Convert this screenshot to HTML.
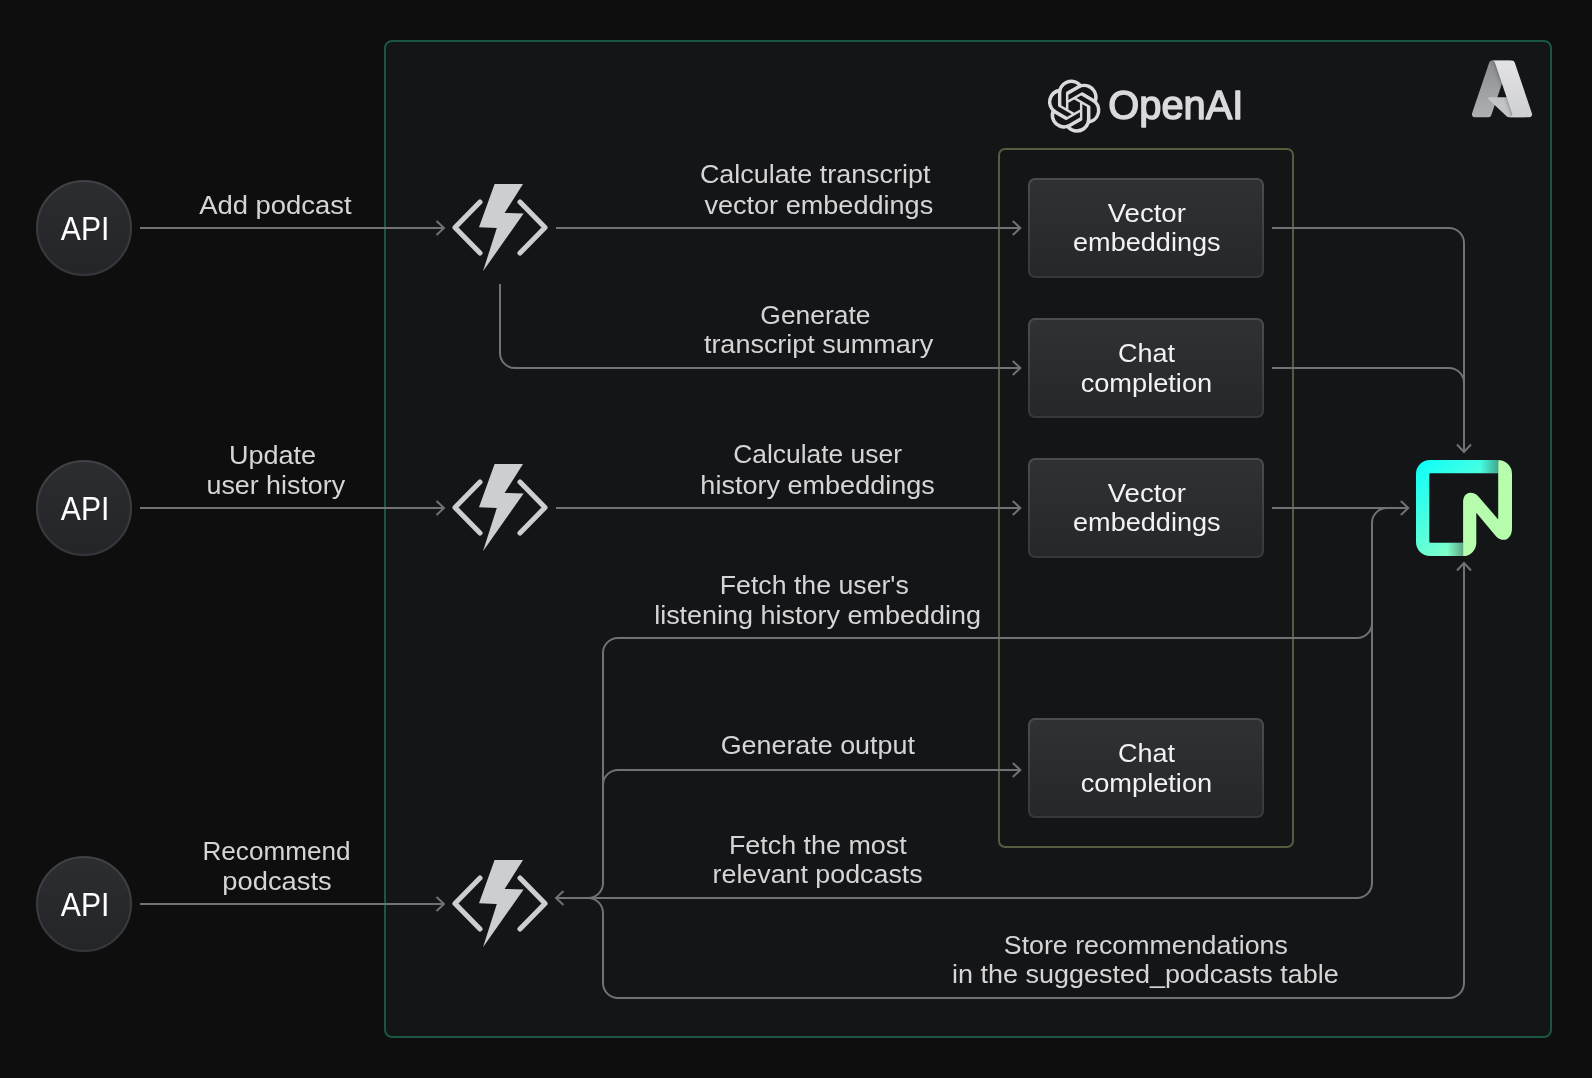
<!DOCTYPE html>
<html><head><meta charset="utf-8"><style>
html,body{margin:0;padding:0;background:#0e0e0e;width:1592px;height:1078px;overflow:hidden;}
svg{display:block;font-family:"Liberation Sans",sans-serif;will-change:transform;}
</style></head><body>
<svg width="1592" height="1078" viewBox="0 0 1592 1078">
<defs>
<linearGradient id="apig" x1="0" y1="0" x2="0" y2="1"><stop offset="0" stop-color="#2c2d30"/><stop offset="1" stop-color="#242528"/></linearGradient>
<linearGradient id="apis" x1="0" y1="0" x2="0" y2="1"><stop offset="0" stop-color="#414245"/><stop offset="1" stop-color="#36373a"/></linearGradient>
<linearGradient id="boxg" x1="0" y1="0" x2="0" y2="1"><stop offset="0" stop-color="#303135"/><stop offset="1" stop-color="#26272a"/></linearGradient>
<linearGradient id="boxs" x1="0" y1="0" x2="0" y2="1"><stop offset="0" stop-color="#4b4c50"/><stop offset="1" stop-color="#37383b"/></linearGradient>
<linearGradient id="azleg" x1="0" y1="0" x2="0" y2="1"><stop offset="0" stop-color="#8d8e91"/><stop offset="1" stop-color="#afb0b3"/></linearGradient>
<linearGradient id="azsh" x1="51.275" y1="49.917" x2="45.02" y2="52.032" gradientUnits="userSpaceOnUse"><stop offset="0" stop-opacity=".3"/><stop offset=".071" stop-opacity=".2"/><stop offset=".321" stop-opacity=".1"/><stop offset=".623" stop-opacity=".05"/><stop offset="1" stop-opacity="0"/></linearGradient>
<linearGradient id="azr" x1="0" y1="0" x2="0" y2="1"><stop offset="0" stop-color="#e3e3e5"/><stop offset="1" stop-color="#cfd0d3"/></linearGradient>
</defs>
<rect x="385" y="41" width="1166" height="996" rx="7" fill="#141517" stroke="#1b5644" stroke-width="2"/>
<rect x="999" y="149" width="294" height="698" rx="6" fill="none" stroke="#575c3f" stroke-width="2"/>
<g fill="none" stroke="#717275" stroke-width="2"><path d="M140 228 H444"/><path d="M556 228 H1020"/><path d="M500 284 V353 A15 15 0 0 0 515 368 H1020"/><path d="M1272 228 H1449 A15 15 0 0 1 1464 243 V451"/><path d="M1272 368 H1449 A15 15 0 0 1 1464 383"/><path d="M140 508 H444"/><path d="M556 508 H1020"/><path d="M1272 508 H1408"/><path d="M1372 883 V523 A15 15 0 0 1 1387 508"/><path d="M1357 638 A15 15 0 0 0 1372 623"/><path d="M1357 638 H618 A15 15 0 0 0 603 653 V883 A15 15 0 0 1 588 898"/><path d="M603 785 A15 15 0 0 1 618 770 H1020"/><path d="M140 904 H444"/><path d="M556 898 H1357 A15 15 0 0 0 1372 883"/><path d="M588 898 A15 15 0 0 1 603 913 V983 A15 15 0 0 0 618 998 H1449 A15 15 0 0 0 1464 983 V564"/><path d="M436.5 221 L444 228 L436.5 235"/><path d="M1012.8 221 L1020.3 228 L1012.8 235"/><path d="M1012.8 361 L1020.3 368 L1012.8 375"/><path d="M436.5 501 L444 508 L436.5 515"/><path d="M1012.8 501 L1020.3 508 L1012.8 515"/><path d="M1400.8 501 L1408.3 508 L1400.8 515"/><path d="M1012.8 763 L1020.3 770 L1012.8 777"/><path d="M436.5 897 L444 904 L436.5 911"/><path d="M563.5 891 L556 898 L563.5 905"/><path d="M1457 444.5 L1464 452 L1471 444.5"/><path d="M1457 570.5 L1464 563 L1471 570.5"/></g>
<rect x="1029" y="179" width="234" height="98" rx="6" fill="url(#boxg)" stroke="url(#boxs)" stroke-width="2"/>
<rect x="1029" y="319" width="234" height="98" rx="6" fill="url(#boxg)" stroke="url(#boxs)" stroke-width="2"/>
<rect x="1029" y="459" width="234" height="98" rx="6" fill="url(#boxg)" stroke="url(#boxs)" stroke-width="2"/>
<rect x="1029" y="719" width="234" height="98" rx="6" fill="url(#boxg)" stroke="url(#boxs)" stroke-width="2"/>
<circle cx="84" cy="228" r="47" fill="url(#apig)" stroke="url(#apis)" stroke-width="2"/>
<circle cx="84" cy="508" r="47" fill="url(#apig)" stroke="url(#apis)" stroke-width="2"/>
<circle cx="84" cy="904" r="47" fill="url(#apig)" stroke="url(#apis)" stroke-width="2"/>
<g transform="translate(0,0.0)">
<path d="M480 202 L455 227.5 L480 253 M520 202 L545 227.5 L520 253" fill="none" stroke="#cdced1" stroke-width="5.1" stroke-linecap="round" stroke-linejoin="round"/>
<path d="M494.6 184 L523 184 L504.6 213 L523.6 213.4 L483 271.3 L496.8 228 L479 227.3 Z" fill="#cdced1"/>
</g>
<g transform="translate(0,280.0)">
<path d="M480 202 L455 227.5 L480 253 M520 202 L545 227.5 L520 253" fill="none" stroke="#cdced1" stroke-width="5.1" stroke-linecap="round" stroke-linejoin="round"/>
<path d="M494.6 184 L523 184 L504.6 213 L523.6 213.4 L483 271.3 L496.8 228 L479 227.3 Z" fill="#cdced1"/>
</g>
<g transform="translate(0,676.0)">
<path d="M480 202 L455 227.5 L480 253 M520 202 L545 227.5 L520 253" fill="none" stroke="#cdced1" stroke-width="5.1" stroke-linecap="round" stroke-linejoin="round"/>
<path d="M494.6 184 L523 184 L504.6 213 L523.6 213.4 L483 271.3 L496.8 228 L479 227.3 Z" fill="#cdced1"/>
</g>
<g transform="translate(1416,460)">
<defs>
<linearGradient id="ncy" x1="96" y1="96" x2="11.6" y2="0" gradientUnits="userSpaceOnUse">
<stop offset="0" stop-color="#b9ffb3"/><stop offset="1" stop-color="#12fff7"/></linearGradient>
<linearGradient id="nsh1" x1="64" y1="0" x2="82.2" y2="0" gradientUnits="userSpaceOnUse">
<stop offset="0" stop-color="#1a1a1a" stop-opacity="0"/><stop offset="1" stop-color="#1a1a1a" stop-opacity="0.38"/></linearGradient>
<linearGradient id="nsh2" x1="31" y1="0" x2="47.1" y2="0" gradientUnits="userSpaceOnUse">
<stop offset="0" stop-color="#1a1a1a" stop-opacity="0"/><stop offset="1" stop-color="#1a1a1a" stop-opacity="0.38"/></linearGradient>
</defs>
<path d="M0 14 A14 14 0 0 1 14 0 H82.2 V13.3 H14.6 A1.3 1.3 0 0 0 13.3 14.6 V81.4 A1.3 1.3 0 0 0 14.6 82.7 H47.1 V96 H14 A14 14 0 0 1 0 82 Z" fill="url(#ncy)"/>
<rect x="62" y="0" width="20.2" height="13.3" fill="url(#nsh1)"/>
<rect x="29" y="82.7" width="18.1" height="13.3" fill="url(#nsh2)"/>
<path d="M47.1 96 V42 C47.1 36.5 50.2 32.8 54.2 32.8 C57.6 32.8 60.6 34.3 62.6 36.7 L82.2 59.4 V0 H82 A14 14 0 0 1 96 14 V68 C96 76.5 91.5 79.8 88 79.8 C85 79.8 82.3 78.6 80.2 76.4 L60.3 52.8 V82.8 A13.2 13.2 0 0 1 47.1 96 Z" fill="#b6feae"/>
</g>
<g transform="translate(1469.1,56) scale(0.685)">
<path fill="url(#azleg)" d="M33.338 6.544h26.038l-27.03 80.087a4.152 4.152 0 0 1-3.933 2.824H8.149a4.145 4.145 0 0 1-3.928-5.47L29.404 9.368a4.152 4.152 0 0 1 3.934-2.825z"/>
<path fill="#c3c4c7" d="M71.175 60.261h-41.29a1.911 1.911 0 0 0-1.305 3.309l26.532 24.764a4.171 4.171 0 0 0 2.846 1.121h23.38z"/>
<path fill="url(#azsh)" d="M33.338 6.544a4.118 4.118 0 0 0-3.943 2.879L4.252 83.917a4.14 4.14 0 0 0 3.908 5.538h20.787a4.443 4.443 0 0 0 3.41-2.9l5.014-14.777 17.91 16.705a4.237 4.237 0 0 0 2.666.972H81.24L71.024 60.261l-29.781.007L59.47 6.544z"/>
<path fill="url(#azr)" d="M66.595 9.364a4.145 4.145 0 0 0-3.928-2.82H33.648a4.146 4.146 0 0 1 3.928 2.82l25.184 74.62a4.146 4.146 0 0 1-3.928 5.472h29.02a4.146 4.146 0 0 0 3.927-5.472z"/>
</g>
<g transform="translate(1047.5,79.5) scale(2.22)"><path fill="#dadadc" d="M22.2819 9.8211a5.9847 5.9847 0 0 0-.5157-4.9108 6.0462 6.0462 0 0 0-6.5098-2.9A6.0651 6.0651 0 0 0 4.9807 4.1818a5.9847 5.9847 0 0 0-3.9977 2.9 6.0462 6.0462 0 0 0 .7427 7.0966 5.98 5.98 0 0 0 .511 4.9107 6.051 6.051 0 0 0 6.5146 2.9001A5.9847 5.9847 0 0 0 13.2599 24a6.0557 6.0557 0 0 0 5.7718-4.2058 5.9894 5.9894 0 0 0 3.9977-2.9001 6.0557 6.0557 0 0 0-.7475-7.0729zm-9.022 12.6081a4.4755 4.4755 0 0 1-2.8764-1.0408l.1419-.0804 4.7783-2.7582a.7948.7948 0 0 0 .3927-.6813v-6.7369l2.02 1.1686a.071.071 0 0 1 .038.052v5.5826a4.504 4.504 0 0 1-4.4945 4.4944zm-9.6607-4.1254a4.4708 4.4708 0 0 1-.5346-3.0137l.142.0852 4.783 2.7582a.7712.7712 0 0 0 .7806 0l5.8428-3.3685v2.3324a.0804.0804 0 0 1-.0332.0615L9.74 19.9502a4.4992 4.4992 0 0 1-6.1408-1.6464zM2.3408 7.8956a4.485 4.485 0 0 1 2.3655-1.9728V11.6a.7664.7664 0 0 0 .3879.6765l5.8144 3.3543-2.0201 1.1685a.0757.0757 0 0 1-.071 0l-4.8303-2.7865A4.504 4.504 0 0 1 2.3408 7.872zm16.5963 3.8558L13.1038 8.364 15.1192 7.2a.0757.0757 0 0 1 .071 0l4.8303 2.7913a4.4944 4.4944 0 0 1-.6765 8.1042v-5.6772a.79.79 0 0 0-.407-.667zm2.0107-3.0231l-.142-.0852-4.7735-2.7818a.7759.7759 0 0 0-.7854 0L9.409 9.2297V6.8974a.0662.0662 0 0 1 .0284-.0615l4.8303-2.7866a4.4992 4.4992 0 0 1 6.6802 4.66zM8.3065 12.863l-2.02-1.1638a.0804.0804 0 0 1-.038-.0567V6.0742a4.4992 4.4992 0 0 1 7.3757-3.4537l-.142.0805L8.704 5.459a.7948.7948 0 0 0-.3927.6813zm1.0976-2.3654l2.602-1.4998 2.6069 1.4998v2.9994l-2.5974 1.4997-2.6067-1.4997Z"/></g>
<text x="1108.3" y="118.8" fill="#dadadc" stroke="#dadadc" stroke-width="1.45" stroke-linejoin="round" font-size="40" textLength="135" lengthAdjust="spacingAndGlyphs">OpenAI</text>
<g font-family="Liberation Sans, sans-serif">
<text x="275.4" y="213.9" fill="#d5d5d6" font-size="26.6" text-anchor="middle" textLength="152.5" lengthAdjust="spacingAndGlyphs">Add podcast</text>
<text x="272.5" y="463.9" fill="#d5d5d6" font-size="26.6" text-anchor="middle" textLength="87.2" lengthAdjust="spacingAndGlyphs">Update</text>
<text x="275.8" y="493.9" fill="#d5d5d6" font-size="26.6" text-anchor="middle" textLength="138.6" lengthAdjust="spacingAndGlyphs">user history</text>
<text x="276.5" y="860.0" fill="#d5d5d6" font-size="26.6" text-anchor="middle" textLength="148.0" lengthAdjust="spacingAndGlyphs">Recommend</text>
<text x="277.0" y="889.9" fill="#d5d5d6" font-size="26.6" text-anchor="middle" textLength="109.3" lengthAdjust="spacingAndGlyphs">podcasts</text>
<text x="815.2" y="183.4" fill="#d5d5d6" font-size="26.6" text-anchor="middle" textLength="230.6" lengthAdjust="spacingAndGlyphs">Calculate transcript</text>
<text x="818.8" y="213.7" fill="#d5d5d6" font-size="26.6" text-anchor="middle" textLength="228.8" lengthAdjust="spacingAndGlyphs">vector embeddings</text>
<text x="815.4" y="323.5" fill="#d5d5d6" font-size="26.6" text-anchor="middle" textLength="110.1" lengthAdjust="spacingAndGlyphs">Generate</text>
<text x="818.6" y="352.9" fill="#d5d5d6" font-size="26.6" text-anchor="middle" textLength="229.4" lengthAdjust="spacingAndGlyphs">transcript summary</text>
<text x="817.6" y="463.4" fill="#d5d5d6" font-size="26.6" text-anchor="middle" textLength="168.7" lengthAdjust="spacingAndGlyphs">Calculate user</text>
<text x="817.6" y="493.7" fill="#d5d5d6" font-size="26.6" text-anchor="middle" textLength="234.5" lengthAdjust="spacingAndGlyphs">history embeddings</text>
<text x="814.3" y="593.9" fill="#d5d5d6" font-size="26.6" text-anchor="middle" textLength="189.0" lengthAdjust="spacingAndGlyphs">Fetch the user&#39;s</text>
<text x="817.6" y="624.0" fill="#d5d5d6" font-size="26.6" text-anchor="middle" textLength="326.9" lengthAdjust="spacingAndGlyphs">listening history embedding</text>
<text x="817.8" y="753.5" fill="#d5d5d6" font-size="26.6" text-anchor="middle" textLength="194.2" lengthAdjust="spacingAndGlyphs">Generate output</text>
<text x="817.8" y="853.8" fill="#d5d5d6" font-size="26.6" text-anchor="middle" textLength="177.8" lengthAdjust="spacingAndGlyphs">Fetch the most</text>
<text x="817.6" y="882.9" fill="#d5d5d6" font-size="26.6" text-anchor="middle" textLength="210.1" lengthAdjust="spacingAndGlyphs">relevant podcasts</text>
<text x="1145.8" y="953.8" fill="#d5d5d6" font-size="26.6" text-anchor="middle" textLength="284.0" lengthAdjust="spacingAndGlyphs">Store recommendations</text>
<text x="1145.4" y="983.3" fill="#d5d5d6" font-size="26.6" text-anchor="middle" textLength="386.6" lengthAdjust="spacingAndGlyphs">in the suggested_podcasts table</text>
<text x="1146.8" y="221.7" fill="#f2f2f2" font-size="26.6" text-anchor="middle" textLength="78.2" lengthAdjust="spacingAndGlyphs">Vector</text>
<text x="1146.8" y="251.3" fill="#f2f2f2" font-size="26.6" text-anchor="middle" textLength="147.5" lengthAdjust="spacingAndGlyphs">embeddings</text>
<text x="1146.6" y="361.8" fill="#f2f2f2" font-size="26.6" text-anchor="middle" textLength="57.0" lengthAdjust="spacingAndGlyphs">Chat</text>
<text x="1146.4" y="391.8" fill="#f2f2f2" font-size="26.6" text-anchor="middle" textLength="131.5" lengthAdjust="spacingAndGlyphs">completion</text>
<text x="1146.8" y="501.7" fill="#f2f2f2" font-size="26.6" text-anchor="middle" textLength="78.2" lengthAdjust="spacingAndGlyphs">Vector</text>
<text x="1146.8" y="531.3" fill="#f2f2f2" font-size="26.6" text-anchor="middle" textLength="147.5" lengthAdjust="spacingAndGlyphs">embeddings</text>
<text x="1146.6" y="761.8" fill="#f2f2f2" font-size="26.6" text-anchor="middle" textLength="57.0" lengthAdjust="spacingAndGlyphs">Chat</text>
<text x="1146.4" y="791.8" fill="#f2f2f2" font-size="26.6" text-anchor="middle" textLength="131.5" lengthAdjust="spacingAndGlyphs">completion</text>
<text x="85.1" y="240.0" fill="#ffffff" font-size="33" text-anchor="middle" textLength="48.6" lengthAdjust="spacingAndGlyphs">API</text>
<text x="85.1" y="520.0" fill="#ffffff" font-size="33" text-anchor="middle" textLength="48.6" lengthAdjust="spacingAndGlyphs">API</text>
<text x="85.1" y="916.0" fill="#ffffff" font-size="33" text-anchor="middle" textLength="48.6" lengthAdjust="spacingAndGlyphs">API</text>
</g>
</svg>
</body></html>
